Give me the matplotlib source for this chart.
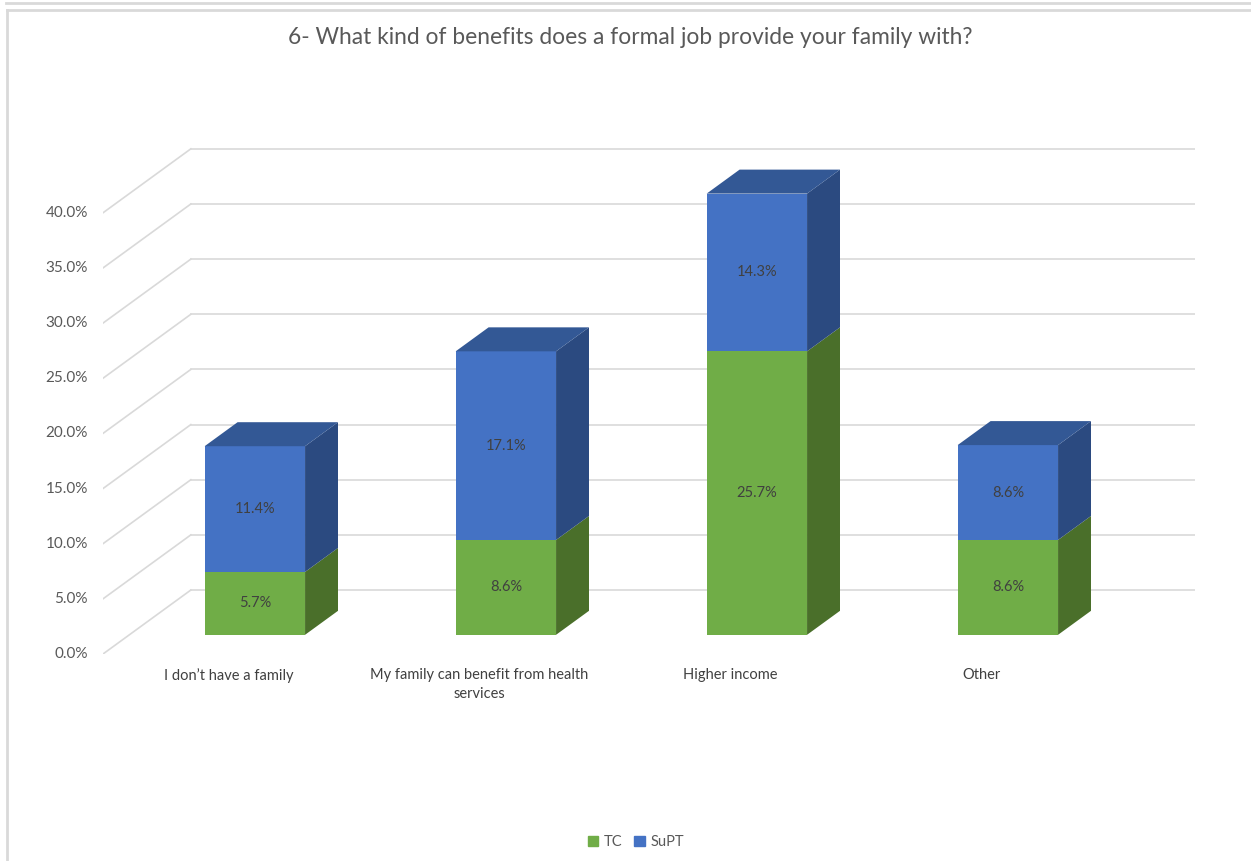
import matplotlib.pyplot as plt
from matplotlib.lines import Line2D
from matplotlib.patches import Patch
import numpy as np

plt.rcParams['font.family'] = ['Lato', 'DejaVu Sans']

categories = ["I don\u2019t have a family", "My family can benefit from health\nservices",
              "Higher income", "Other"]
tc = [5.7, 8.6, 25.7, 8.6]
supt = [11.4, 17.1, 14.3, 8.6]
series = ["TC", "SuPT"]
yticks = [0, 5, 10, 15, 20, 25, 30, 35, 40]

front_cols = ["#70AD47", "#4472C4"]
side_cols = ["#4A6F2A", "#2B4A80"]
top_cols = ["#557F35", "#335895"]

# oblique depth of the floor (category units, percent units)
DX = 0.35
DY = 5.8
FRONT = 0.3     # bar front face sits this far into the depth
DEPTH = 0.375   # bar depth as a fraction of the floor depth
W = 0.4

fig = plt.figure(figsize=(12.51, 8.61), dpi=100)
W_PX, H_PX = 1251, 861
ax = fig.add_axes([103 / W_PX, 207 / H_PX, 1092 / W_PX, 509 / H_PX])
ax.set_xlim(0, 1092 / 251)
ax.set_ylim(0, 509 / 11.03)
ax.axis('off')

grid_c = "#D9D9D9"
n = len(categories)
for v in yticks:
    ax.plot([0, DX], [v, v + DY], color=grid_c, lw=1.2, zorder=0)
    ax.plot([DX, n + DX], [v + DY, v + DY], color=grid_c, lw=1.2, zorder=0)
    ax.text(-0.06, v, f"{v:.1f}%", ha='right', va='center', fontsize=11, color="#595959")

ox, oy = FRONT * DX, FRONT * DY
dx, dy = DEPTH * DX, DEPTH * DY
x = np.arange(n) + 0.5 + ox
bottom = np.full(n, oy)
for k, vals in enumerate([tc, supt]):
    vals = np.array(vals)
    ax.bar(x, vals, W, bottom=bottom, color=front_cols[k], zorder=3)
    for i in range(n):
        xr = x[i] + W / 2
        xl = x[i] - W / 2
        b, t = bottom[i], bottom[i] + vals[i]
        ax.fill([xr, xr + dx, xr + dx, xr], [b, b + dy, t + dy, t], color=side_cols[k], zorder=3, lw=0)
        if k == 1:
            ax.fill([xl, xl + dx, xr + dx, xr], [t, t + dy, t + dy, t], color=top_cols[k], zorder=3, lw=0)
        ax.text(x[i], b + vals[i] / 2, f"{vals[i]:.1f}%", ha='center', va='center',
                fontsize=10.5, color="#404040", zorder=4)
    bottom = bottom + vals

for i, c in enumerate(categories):
    ax.text(i + 0.5, -1.3, c, ha='center', va='top', fontsize=10.5, color="#404040",
            linespacing=1.45)

fig.text(630 / W_PX, 1 - 38 / H_PX, "6- What kind of benefits does a formal job provide your family with?",
         ha='center', va='center', fontsize=16.4, color="#595959")

handles = [Patch(color=front_cols[0]), Patch(color=front_cols[1])]
fig.legend(handles, series, loc='center', bbox_to_anchor=(636 / W_PX, 1 - 842 / H_PX),
           ncol=2, frameon=False, fontsize=10.5, handlelength=0.7, handleheight=0.7,
           handletextpad=0.4, columnspacing=0.8, labelcolor="#595959")

# sheet borders
fig.add_artist(Line2D([6 / W_PX, 1], [1 - 3 / H_PX, 1 - 3 / H_PX], color=grid_c, lw=2, transform=fig.transFigure))
fig.add_artist(Line2D([7 / W_PX, 1], [1 - 10 / H_PX, 1 - 10 / H_PX], color=grid_c, lw=2, transform=fig.transFigure))
fig.add_artist(Line2D([7 / W_PX, 7 / W_PX], [0, 1 - 10 / H_PX], color=grid_c, lw=2, transform=fig.transFigure))

fig.savefig("out.png", dpi=100)
